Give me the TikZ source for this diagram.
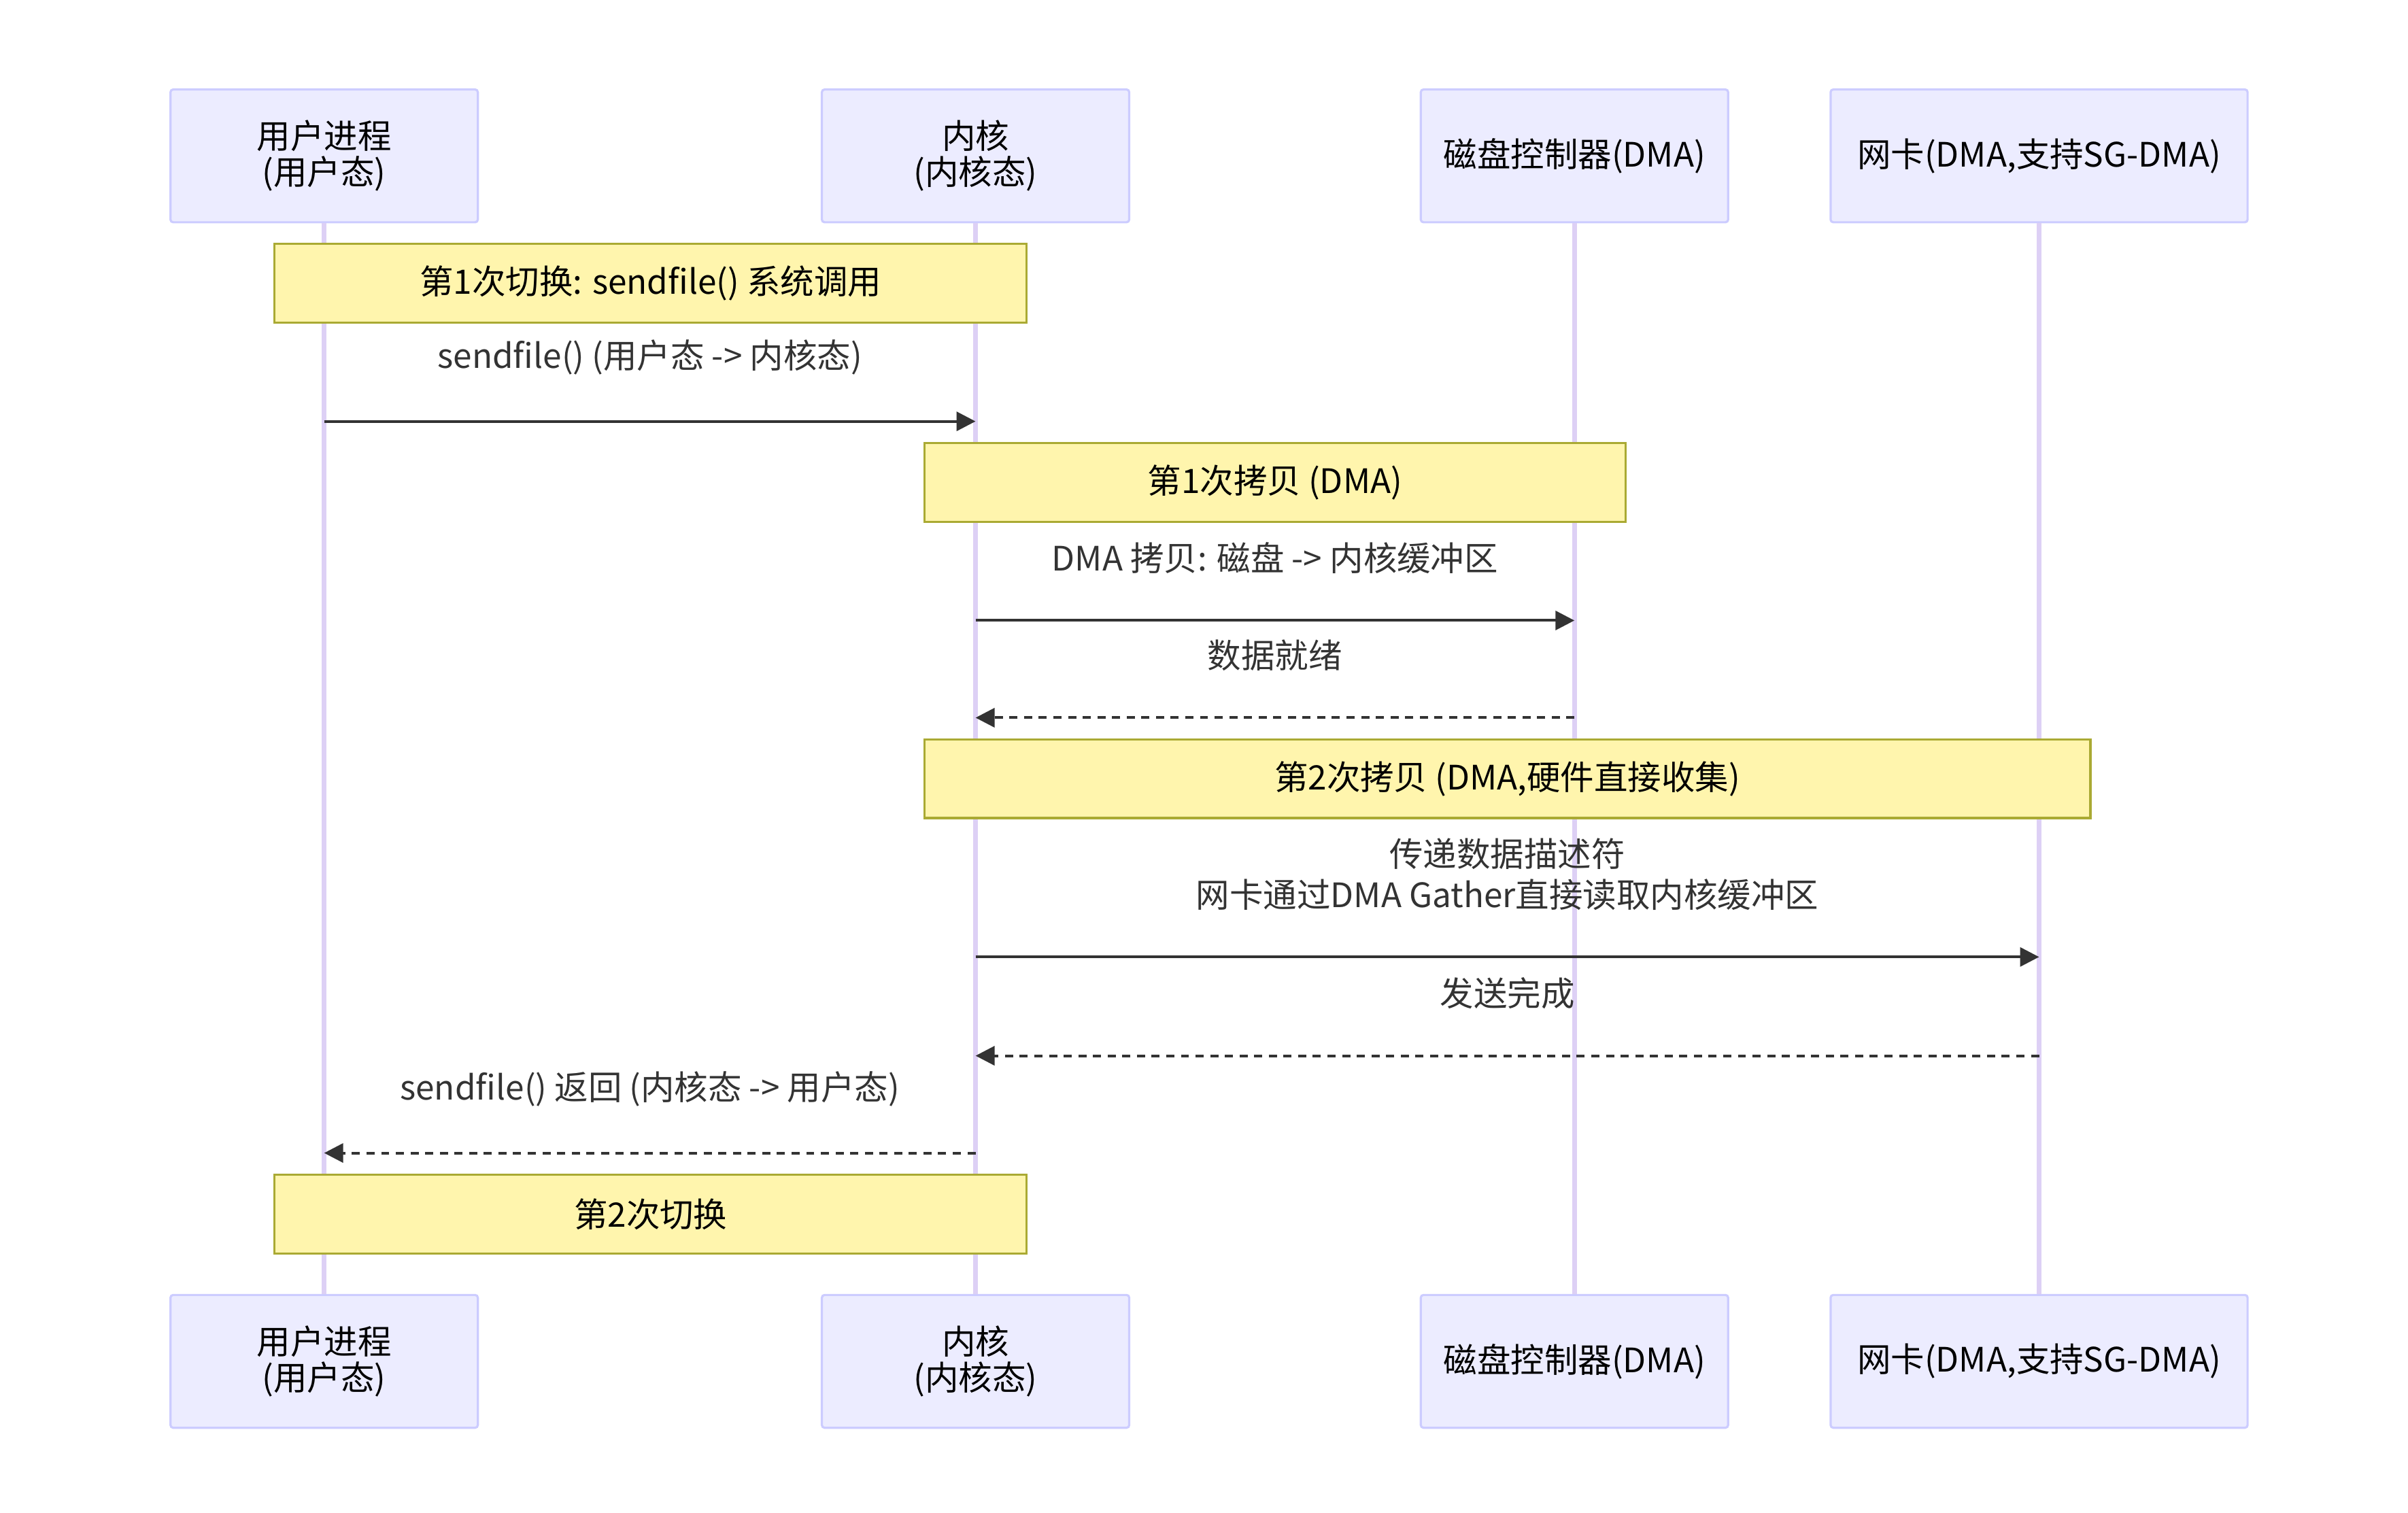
\documentclass[tikz,border=0pt]{standalone}
\usepackage{fontspec}
\setmainfont{Noto Sans CJK SC}
\usetikzlibrary{arrows.meta}
\definecolor{actfill}{HTML}{ECECFF}
\definecolor{actline}{HTML}{CCCCFF}
\definecolor{lifeline}{HTML}{DDD0F5}
\definecolor{notefill}{HTML}{FFF5AD}
\definecolor{noteline}{HTML}{AAAA33}
\definecolor{msg}{HTML}{333333}
\tikzset{
  actor/.style={draw=actline,fill=actfill,rounded corners=0.5pt,minimum width=1.99cm,minimum height=0.86cm,align=center,font=\fontsize{6.2}{6.6}\selectfont,inner sep=0pt},
  note/.style={draw=noteline,fill=notefill,minimum height=0.51cm,inner sep=0pt,font=\fontsize{6.2}{7}\selectfont},
  life/.style={draw=lifeline,line width=0.9pt},
  call/.style={draw=msg,line width=0.5pt,-{Triangle[length=3.5pt,width=3.5pt]}},
  reply/.style={call,dash pattern=on 1.5pt off 1.2pt},
  lbl/.style={font=\fontsize{6.2}{7.5}\selectfont,text=msg,align=center}
}
\begin{document}
\begin{tikzpicture}[x=0.01cm,y=-0.01cm]
  \useasboundingbox (0,0) rectangle (1560,980);
  % lifelines
  \node[actor] (u1) at (210,101) {用户进程\\(用户态)};
  \node[actor] (k1) at (632,101) {内核\\(内核态)};
  \node[actor] (d1) at (1020,101) {磁盘控制器(DMA)};
  \node[actor,minimum width=2.7cm] (n1) at (1321,101) {网卡(DMA,支持SG-DMA)};
  \node[actor] (u2) at (210,882) {用户进程\\(用户态)};
  \node[actor] (k2) at (632,882) {内核\\(内核态)};
  \node[actor] (d2) at (1020,882) {磁盘控制器(DMA)};
  \node[actor,minimum width=2.7cm] (n2) at (1321,882) {网卡(DMA,支持SG-DMA)};
  \draw[life] (u1) -- (u2);
  \draw[life] (k1) -- (k2);
  \draw[life] (d1) -- (d2);
  \draw[life] (n1) -- (n2);

  % notes
  \node[note,minimum width=4.87cm] (s1) at (421.5,183.5) {第1次切换: sendfile() 系统调用};
  \node[note,minimum width=4.54cm] (c1) at (826,312.5) {第1次拷贝 (DMA)};
  \node[note,minimum width=7.55cm] (c2) at (976.5,504.5) {第2次拷贝 (DMA,硬件直接收集)};
  \node[note,minimum width=4.87cm] (s2) at (421.5,786.5) {第2次切换};

  % messages
  \coordinate (ua) at (210,273); \coordinate (ka) at (632,273);
  \coordinate (kb) at (632,402); \coordinate (db) at (1020,402);
  \coordinate (dc) at (1020,465); \coordinate (kc) at (632,465);
  \coordinate (kd) at (632,620); \coordinate (nd) at (1321,620);
  \coordinate (ne) at (1321,684); \coordinate (ke) at (632,684);
  \coordinate (kf) at (632,747); \coordinate (uf) at (210,747);
  \draw[call] (ua) -- node[lbl,above=5pt] {sendfile() (用户态 -> 内核态)} (ka);
  \draw[call] (kb) -- node[lbl,above=5pt] {DMA 拷贝: 磁盘 -> 内核缓冲区} (db);
  \draw[reply] (dc) -- node[lbl,above=5pt] {数据就绪} (kc);
  \draw[call] (kd) -- node[lbl,above=5pt] {传递数据描述符\\网卡通过DMA Gather直接读取内核缓冲区} (nd);
  \draw[reply] (ne) -- node[lbl,above=5pt] {发送完成} (ke);
  \draw[reply] (kf) -- node[lbl,above=5pt] {sendfile() 返回 (内核态 -> 用户态)} (uf);
\end{tikzpicture}
\end{document}
